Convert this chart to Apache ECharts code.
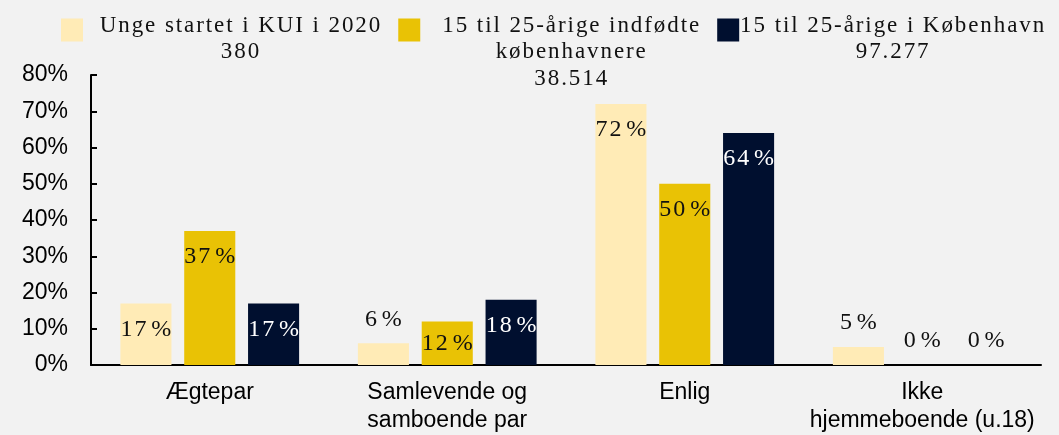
<!DOCTYPE html>
<html>
<head>
<meta charset="utf-8">
<script src="https://cdn.jsdelivr.net/npm/echarts@6/dist/echarts.min.js"></script>
<style>
  html, body { margin: 0; padding: 0; background: #f2f2f2; }
  #chart { width: 1059px; height: 435px; }
</style>
</head>
<body>
<div id="chart"></div>
<script>
// data
const categories = ['Ægtepar', 'Samlevende og\nsamboende par', 'Enlig', 'Ikke\nhjemmeboende (u.18)']
const seriesNames = [
  'Unge startet i KUI i 2020\n380',
  '15 til 25-årige indfødte\nkøbenhavnere\n38.514',
  '15 til 25-årige i København\n97.277'
]
const kuiValues = [17, 6, 72, 5]
const indfodteValues = [37, 12, 50, 0]
const kbhValues = [17, 18, 64, 0]
const yTicks = [0, 10, 20, 30, 40, 50, 60, 70, 80]

const colors = ['#ffebb6', '#e9c205', '#000f2f']
const labelColors = ['#111', '#111', '#fff']
// where each bar label sits (short bars get it above)
const labelPos = [
  ['insideTop', 'top', 'insideTop', 'top'],
  ['insideTop', 'inside', 'insideTop', 'top'],
  ['insideTop', 'insideTop', 'insideTop', 'top']
]
const legendWidths = [304, 291, 296]

const serif = '"Liberation Serif", "Times New Roman", serif'
const sans = '"Liberation Sans", Arial, sans-serif'

// spread letters a little, like the original pdf text
const spaced = (s) => s.split('').join('\u200A')

const chart = echarts.init(document.getElementById('chart'))

const allValues = [kuiValues, indfodteValues, kbhValues]

const series = seriesNames.map((name, i) => ({
  name,
  type: 'bar',
  barWidth: '21.5%',
  barGap: '25%',
  itemStyle: { color: colors[i] },
  data: allValues[i].map((v, j) => {
    const pos = labelPos[i][j]
    return {
      value: v,
      label: {
        position: pos,
        distance: pos === 'top' ? 12 : 14,
        color: pos === 'top' ? '#111' : labelColors[i]
      }
    }
  }),
  label: {
    show: true,
    fontFamily: serif,
    fontSize: 24,
    formatter: (p) => spaced(String(p.value)) + '\u2009%'
  }
}))

chart.setOption({
  backgroundColor: '#f2f2f2',
  animation: false,
  color: colors,
  legend: {
    left: 56,
    top: 9,
    itemGap: 18,
    itemWidth: 22,
    itemHeight: 23,
    icon: 'rect',
    data: seriesNames.map((name, i) => ({
      name,
      textStyle: { width: legendWidths[i] }
    })),
    formatter: (name) => {
      const lines = name.split('\n')
      while (lines.length < 3) lines.push(' ')
      return lines.map(l => '{c|' + spaced(l) + '}').join('\n')
    },
    textStyle: {
      padding: [44, 0, 0, 0],
      rich: {
        c: { align: 'center', fontFamily: serif, fontSize: 23, lineHeight: 26.5, color: '#111' }
      }
    }
  },
  grid: { left: 91, right: 18, top: 75, bottom: 68 },
  xAxis: {
    type: 'category',
    data: categories,
    axisLine: { lineStyle: { color: '#000', width: 2 } },
    axisTick: { show: false },
    axisLabel: { fontFamily: sans, fontSize: 23, color: '#000', lineHeight: 28, margin: 14, interval: 0 }
  },
  yAxis: {
    type: 'value',
    min: yTicks[0],
    max: yTicks[yTicks.length - 1],
    interval: 10,
    axisLine: { show: true, lineStyle: { color: '#000', width: 2 } },
    axisTick: { show: true, inside: true, length: 6, lineStyle: { color: '#000', width: 2 } },
    splitLine: { show: false },
    axisLabel: { fontFamily: sans, fontSize: 23, color: '#000', margin: 23, formatter: '{value}%' }
  },
  series
})
</script>
</body>
</html>
